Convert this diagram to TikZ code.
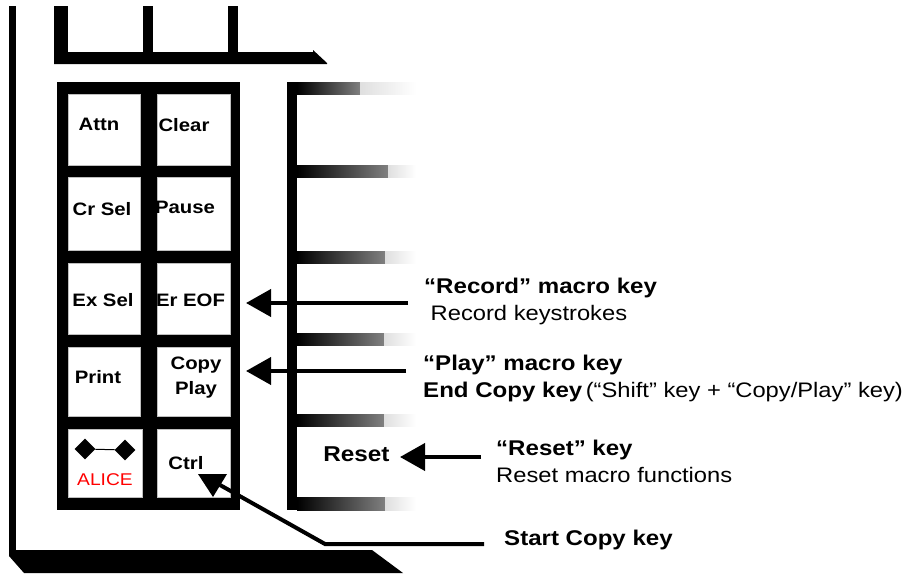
\documentclass[tikz,border=0pt]{standalone}
\usepackage{fontspec}
\setmainfont[FakeStretch=1.13]{Liberation Sans}
\usetikzlibrary{shapes.geometric, arrows.meta, positioning}

\begin{document}
\begin{tikzpicture}[
  x=1pt, y=-1pt,
  fadebar/.style={draw=none, left color=black, middle color=black!85, right color=gray},
  fadeend/.style={draw=none, left color=gray!25, right color=white},
  keycell/.style={rectangle, fill=white, draw=gray!50, line width=0.4pt, inner sep=0pt},
  keylbl/.style={font=\fontsize{18}{25}\selectfont\bfseries, align=center, inner sep=0pt, anchor=base},
  calloutbold/.style={font=\fontsize{21.3}{25}\selectfont\bfseries, anchor=base west, inner sep=0pt},
  callouttxt/.style={font=\fontsize{21}{25}\selectfont, anchor=base west, inner sep=0pt},
  pointer/.style={-{Triangle[length=25pt, width=27pt]}, line width=4pt},
  alicemark/.style={diamond, fill=black, inner sep=0pt, minimum width=21pt, minimum height=21pt}
]
\useasboundingbox (0,0) rectangle (918,573);

% Case outline (left line and bottom edge)
\fill[black] (9,6) rectangle (15.5,550);
\fill[black] (9,550) -- (372,550) -- (403,573) -- (24,573) -- (9,556) -- cycle;

% Upper key block
\fill[black] (54,6) rectangle (68,52);
\fill[black] (143,6) rectangle (153,52);
\fill[black] (228,6) rectangle (238,52);
\fill[black] (54,52) -- (313,52) -- (313,50) -- (327,63) -- (327,64) -- (54,64) -- cycle;

% Main key block
\fill[black] (57,82) rectangle (240,510);

\node[keycell, minimum width=72pt, minimum height=71pt] (attn)  at (104,129.5) {};
\node[keycell, minimum width=73pt, minimum height=71pt] (clear) at (193.5,129.5) {};
\node[keycell, minimum width=72pt, minimum height=73pt] (crsel) at (104,213.5) {};
\node[keycell, minimum width=73pt, minimum height=73pt] (pause) at (193.5,213.5) {};
\node[keycell, minimum width=72pt, minimum height=71pt] (exsel) at (104,298.5) {};
\node[keycell, minimum width=73pt, minimum height=71pt] (erof)  at (193.5,298.5) {};
\node[keycell, minimum width=72pt, minimum height=69pt] (print) at (104,381.5) {};
\node[keycell, minimum width=73pt, minimum height=69pt] (copy)  at (193.5,381.5) {};
\node[keycell, minimum width=74pt, minimum height=68pt] (alice) at (105,463) {};
\node[keycell, minimum width=73pt, minimum height=68pt] (ctrl)  at (193.5,463) {};

% Right key block, fading out
\fill[black] (287,82) rectangle (297,510);
\foreach \ya/\yb/\xa in {82/94/360, 165/177/388, 251/263/385, 333/345/384, 414/426/384, 497/510/385} {
  \shade[fadebar] (297,\ya) rectangle (\xa,\yb);
  \shade[fadeend] (\xa,\ya) rectangle (416,\yb);
}

% Key labels
\node[keylbl] (attnlbl)  at (99,130.5)  {Attn};
\node[keylbl] (clearlbl) at (184,131) {Clear};
\node[keylbl] (crsellbl) at (102,215) {Cr Sel};
\node[keylbl] (pauselbl) at (185,213) {Pause};
\node[keylbl] (exsellbl) at (103,306) {Ex Sel};
\node[keylbl] (eroflbl)  at (190.5,306) {Er EOF};
\node[keylbl] (printlbl) at (98,383)  {Print};
\node[keylbl, anchor=center] (copylbl) at (196,377.5) {Copy\\Play};
\node[keylbl] (ctrllbl)  at (186,469) {Ctrl};
\node[keylbl, font=\fontsize{21.5}{25}\selectfont\bfseries] (resetlbl) at (356.5,461) {Reset};

% ALICE key
\node[alicemark] (diaL) at (85,449) {};
\node[alicemark] (diaR) at (125,450) {};
\draw[line width=1pt] (diaL) -- (diaR);
\node[font=\fontsize{17}{21}\selectfont, text=red, inner sep=0pt, anchor=base] (alicelbl) at (105,485) {ALICE};

% Callout text
\node[calloutbold] (recordhd) at (424,293) {“Record” macro key};
\node[callouttxt]  (recordtx) at (430.5,320) {Record keystrokes};
\node[calloutbold] (playhd)   at (423,370) {“Play” macro key};
\node[calloutbold] (endcopy)  at (423,397) {End Copy key};
\node[callouttxt, right=3pt of endcopy.base east, anchor=base west] (endnote) {(“Shift” key + “Copy/Play” key)};
\node[calloutbold] (resethd)  at (496,455) {“Reset” key};
\node[callouttxt]  (resettx)  at (496,482) {Reset macro functions};
\node[calloutbold] (starthd)  at (504,545) {Start Copy key};

% --- Arrows ---
\coordinate (recordend) at (408,303);
\coordinate (recordtip) at (246,303);
\coordinate (playend)   at (406,371);
\coordinate (playtip)   at (246,371);
\coordinate (resetend)  at (481,457);
\coordinate (resettip)  at (400,457);
\draw[pointer] (recordend) -- (recordtip);
\draw[pointer] (playend)   -- (playtip);
\draw[pointer] (resetend)  -- (resettip);

% Start Copy leader
\coordinate (startend) at (484,544);
\coordinate (startelb) at (325,544);
\coordinate (starttip) at (220,485);
\draw[line width=4pt, line join=miter] (startend) -- (startelb) -- (starttip);
\fill[black] (198,474) -- (227,474) -- (213,497) -- cycle;

\end{tikzpicture}
\end{document}
